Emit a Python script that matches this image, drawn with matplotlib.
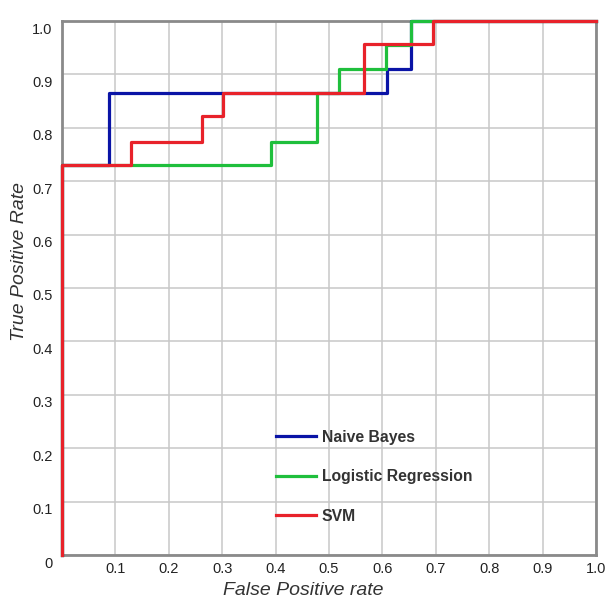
import matplotlib.pyplot as plt
import matplotlib.transforms as mtransforms

plt.rcParams['font.family'] = ['Liberation Sans', 'DejaVu Sans']

# ROC points (fpr, tpr)
nb_fpr = [0.0, 0.0, 0.088, 0.608, 0.653, 1.0]
nb_tpr = [0.0, 0.73, 0.866, 0.911, 1.0, 1.0]

lr_fpr = [0.0, 0.0, 0.391, 0.478, 0.519, 0.606, 0.653, 1.0]
lr_tpr = [0.0, 0.73, 0.774, 0.866, 0.911, 0.955, 1.0, 1.0]

svm_fpr = [0.0, 0.0, 0.13, 0.262, 0.302, 0.566, 0.695, 1.0]
svm_tpr = [0.0, 0.73, 0.774, 0.822, 0.866, 0.957, 1.0, 1.0]

ticks = [0, 0.1, 0.2, 0.3, 0.4, 0.5, 0.6, 0.7, 0.8, 0.9, 1.0]
x_tick_labels = ['', '0.1', '0.2', '0.3', '0.4', '0.5', '0.6', '0.7', '0.8', '0.9', '1.0']
y_tick_labels = ['0', '0.1', '0.2', '0.3', '0.4', '0.5', '0.6', '0.7', '0.8', '0.9', '1.0']

fig = plt.figure(figsize=(6.12, 6.02), dpi=100)
ax = fig.add_axes([62 / 612, 47 / 602, 534 / 612, 534 / 602])

curves = [
    (nb_fpr, nb_tpr, '#0a14a6', 'Naive Bayes'),
    (lr_fpr, lr_tpr, '#1fbf3c', 'Logistic Regression'),
    (svm_fpr, svm_tpr, '#e8222a', 'SVM'),
]
for i, (xs, ys, col, lab) in enumerate(curves):
    ax.plot(xs, ys, drawstyle='steps-post', color=col, lw=2.3, label=lab,
            clip_on=False, zorder=3 + i)

ax.set_xlim(0, 1)
ax.set_ylim(0, 1)
ax.set_xticks(ticks)
ax.set_xticklabels(x_tick_labels)
ax.set_yticks(ticks)
ax.set_yticklabels(y_tick_labels)
ax.tick_params(length=0, labelsize=10.5, colors='#222222')
ax.tick_params(axis='x', pad=5)
ax.tick_params(axis='y', pad=7)

# y labels sit a little below their grid lines in the original
shift = mtransforms.ScaledTranslation(0, -7 / 100, fig.dpi_scale_trans)
for lbl in ax.get_yticklabels():
    lbl.set_transform(lbl.get_transform() + shift)

ax.grid(True, color='#c8c8c8', lw=1.1)
ax.set_axisbelow(True)
for s in ax.spines.values():
    s.set_color('#8a8a8a')
    s.set_linewidth(2)

xl = ax.set_xlabel('False Positive rate', fontsize=14, style='italic', color='#333333')
xl.set_va('center')
ax.xaxis.set_label_coords(0.451, -0.066)
yl = ax.set_ylabel('True Positive Rate', fontsize=14, style='italic', color='#333333')
yl.set_va('center')
ax.yaxis.set_label_coords(-0.079, 0.55)

leg = ax.legend(loc='lower left', bbox_to_anchor=(0.374, 0.032), frameon=False,
                handlelength=2.55, labelspacing=1.565, handletextpad=0.38,
                prop={'weight': 'bold', 'size': 11.3})
for t in leg.get_texts():
    t.set_color('#333333')

fig.savefig('out.png', dpi=100)
